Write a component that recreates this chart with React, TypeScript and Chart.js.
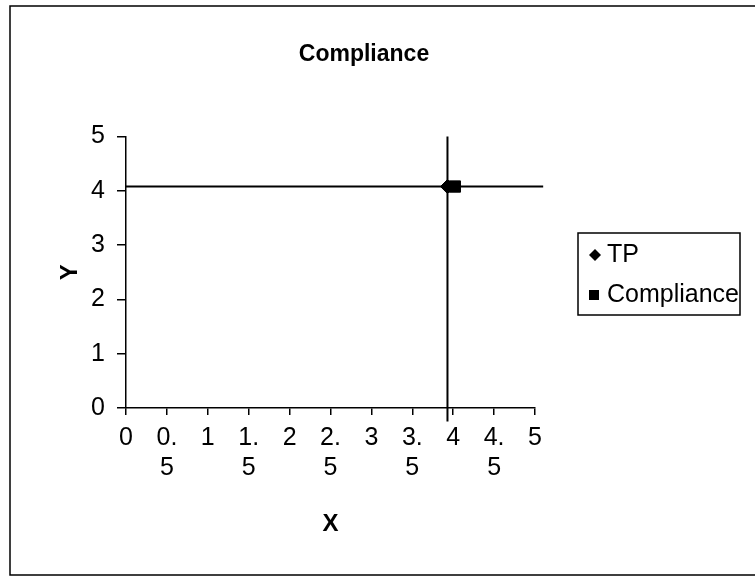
import React, { useEffect, useRef } from 'react';
import { Chart, registerables } from 'chart.js';

Chart.register(...registerables);

// ---- data ----
const seriesNames = ['TP', 'Compliance'];
const tpX = [3.93];
const tpY = [4.08];
const complianceX = [4.02];
const complianceY = [4.08];
// reference cross lines through the TP point
const crossVerticalY = [5, -0.25];
const crossHorizontalX = [0, 5.1];
const xTickValues = [0, 0.5, 1, 1.5, 2, 2.5, 3, 3.5, 4, 4.5, 5];
const xTickLabels = [['0'], ['0.', '5'], ['1'], ['1.', '5'], ['2'], ['2.', '5'], ['3'], ['3.', '5'], ['4'], ['4.', '5'], ['5']];
const yTickLabels = ['0', '1', '2', '3', '4', '5'];
const chartTitle = 'Compliance';
const xTitle = 'X';
const yTitle = 'Y';

const SANS = '"Liberation Sans", Arial, Helvetica, sans-serif';

const framePlugin = {
  id: 'frame',
  afterDraw(chart: any) {
    const ctx = chart.ctx;
    ctx.save();
    ctx.strokeStyle = '#000';
    ctx.lineWidth = 1.5;
    ctx.beginPath();
    ctx.moveTo(756, 6);
    ctx.lineTo(10, 6);
    ctx.lineTo(10, 575);
    ctx.lineTo(756, 575);
    ctx.stroke();
    ctx.restore();
  },
};

const legendPlugin = {
  id: 'boxLegend',
  afterDraw(chart: any) {
    const ctx = chart.ctx;
    const left = 578, top = 233, right = 740, bottom = 315;
    ctx.save();
    ctx.fillStyle = '#fff';
    ctx.fillRect(left, top, right - left, bottom - top);
    ctx.strokeStyle = '#000';
    ctx.lineWidth = 1.5;
    ctx.strokeRect(left, top, right - left, bottom - top);
    ctx.fillStyle = '#000';
    // TP diamond
    const y1 = 255;
    ctx.beginPath();
    ctx.moveTo(595, y1 - 6);
    ctx.lineTo(601, y1);
    ctx.lineTo(595, y1 + 6);
    ctx.lineTo(589, y1);
    ctx.closePath();
    ctx.fill();
    // Compliance square
    const y2 = 295;
    ctx.fillRect(589, y2 - 5, 10, 10);
    ctx.font = `25px ${SANS}`;
    ctx.textBaseline = 'middle';
    ctx.textAlign = 'left';
    ctx.fillText(chart.data.datasets[0].label, 607, y1);
    ctx.fillText(chart.data.datasets[1].label, 607, y2);
    ctx.restore();
  },
};

export default function App() {
  const canvasRef = useRef<HTMLCanvasElement | null>(null);

  useEffect(() => {
    if (!canvasRef.current) return;
    const chart = new Chart(canvasRef.current, {
      type: 'scatter',
      data: {
        datasets: [
          {
            label: seriesNames[0],
            data: tpX.map((x, i) => ({ x, y: tpY[i] })),
            pointStyle: 'rectRot',
            pointRadius: 7,
            backgroundColor: '#000',
            borderColor: '#000',
            showLine: false,
            clip: false,
          },
          {
            label: seriesNames[1],
            data: complianceX.map((x, i) => ({ x, y: complianceY[i] })),
            pointStyle: 'rect',
            pointRadius: 8,
            backgroundColor: '#000',
            borderColor: '#000',
            showLine: false,
            clip: false,
          },
          {
            label: 'crossV',
            data: crossVerticalY.map((y) => ({ x: tpX[0], y })),
            showLine: true,
            borderColor: '#000',
            borderWidth: 2,
            pointRadius: 0,
            clip: false,
          },
          {
            label: 'crossH',
            data: crossHorizontalX.map((x) => ({ x, y: tpY[0] })),
            showLine: true,
            borderColor: '#000',
            borderWidth: 2,
            pointRadius: 0,
            clip: false,
          },
        ],
      },
      options: {
        responsive: false,
        animation: false,
        layout: { padding: { left: 0, right: 27, top: 0, bottom: 0 } },
        plugins: {
          legend: { display: false },
          tooltip: { enabled: false },
          title: {
            display: true,
            text: chartTitle,
            color: '#000',
            font: { family: SANS, size: 23, weight: 'bold', lineHeight: 1.2 },
            padding: { top: 41, bottom: 68 },
          },
        },
        scales: {
          x: {
            type: 'linear',
            position: 'bottom',
            min: 0,
            max: 5,
            afterBuildTicks: (s: any) => {
              s.ticks = xTickValues.map((v) => ({ value: v }));
            },
            afterFit: (s: any) => {
              s.height = 172;
              s.paddingLeft = 0;
              s.paddingRight = 0;
            },
            ticks: {
              autoSkip: false,
              maxRotation: 0,
              minRotation: 0,
              color: '#000',
              padding: 8,
              font: { family: SANS, size: 25, lineHeight: 1.2 },
              callback: (_v: any, i: number) => xTickLabels[i],
            },
            grid: { drawOnChartArea: false, drawTicks: true, tickLength: 7, color: '#000', lineWidth: 1.5 },
            border: { display: true, color: '#000', width: 1.5 },
            title: {
              display: true,
              text: xTitle,
              color: '#000',
              font: { family: SANS, size: 24, weight: 'bold', lineHeight: 1.2 },
              padding: { top: 0, bottom: 41 },
            },
          },
          y: {
            type: 'linear',
            position: 'left',
            min: 0,
            max: 5,
            afterFit: (s: any) => {
              s.width = 126;
              s.paddingTop = 0;
              s.paddingBottom = 0;
            },
            ticks: {
              stepSize: 1,
              color: '#000',
              padding: 12,
              font: { family: SANS, size: 25 },
              callback: (v: any) => yTickLabels[Math.round(Number(v))],
            },
            grid: { drawOnChartArea: false, drawTicks: true, tickLength: 9, color: '#000', lineWidth: 1.5 },
            border: { display: true, color: '#000', width: 1.5 },
            title: {
              display: true,
              text: yTitle,
              color: '#000',
              font: { family: SANS, size: 24, weight: 'bold', lineHeight: 1.2 },
              padding: { top: 56, bottom: 0 },
            },
          },
          legendSpace: {
            type: 'linear',
            position: 'right',
            display: true,
            afterFit: (s: any) => {
              s.width = 193;
              s.paddingTop = 0;
              s.paddingBottom = 0;
            },
            ticks: { display: false },
            grid: { display: false },
            border: { display: false },
          },
        },
      } as any,
      plugins: [framePlugin, legendPlugin],
    });
    return () => chart.destroy();
  }, []);

  return (
    <div style={{ position: 'absolute', left: 0, top: 0, width: 755, height: 580, background: '#fff' }}>
      <canvas ref={canvasRef} width={755} height={580} style={{ display: 'block' }} />
    </div>
  );
}
